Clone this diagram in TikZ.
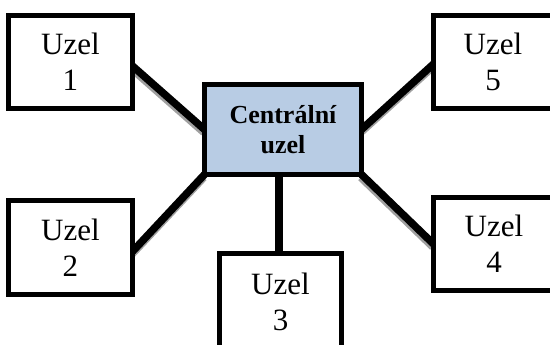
\documentclass[tikz,border=0pt]{standalone}
\usepackage{fontspec}
\setmainfont{Liberation Serif}
\usetikzlibrary{calc,backgrounds}
\definecolor{hubfill}{HTML}{B8CCE4}
\definecolor{shade}{HTML}{A0A0A0}
\tikzset{
  leaf/.style={draw=black, line width=5pt, fill=white, inner sep=0pt, outer sep=0pt,
    align=center, font=\fontsize{31}{36}\selectfont},
  hub/.style={draw=black, line width=5pt, fill=hubfill, inner sep=0pt, outer sep=0pt,
    align=center, font=\fontsize{26}{30}\selectfont\bfseries},
  link/.style={draw=black, line width=7.5pt},
  linkshadow/.style={draw=shade, line width=7.5pt}
}
\begin{document}
\begin{tikzpicture}[x=1pt, y=-1pt]
  \clip (0,0) rectangle (550,345);

  % the star: one hub and five leaves
  \node[hub, minimum width=157pt, minimum height=90pt] (c) at (283,129.5) {Centrální\\uzel};
  \node[leaf, minimum width=124pt, minimum height=93pt] (b1) at (70.5,62) {Uzel\\1};
  \node[leaf, minimum width=124pt, minimum height=94pt] (b2) at (70.5,247.5) {Uzel\\2};
  \node[leaf, minimum width=122pt, minimum height=97pt] (b3) at (280.5,302) {Uzel\\3};
  \node[leaf, minimum width=121pt, minimum height=93pt] (b4) at (494,244) {Uzel\\4};
  \node[leaf, minimum width=119pt, minimum height=93pt] (b5) at (493,62) {Uzel\\5};

  % white sheet and spokes with a soft grey drop shadow, kept behind the boxes
  \begin{pgfonlayer}{background}
    \fill[white] (0,0) rectangle (550,345);
    \coordinate (s1) at ($(b1.east)+(0,4)$);
    \coordinate (s5) at ($(b5.west)+(0,2)$);
    \coordinate (s2) at ($(b2.east)+(0,4)$);
    \coordinate (t3) at ($(c.south)+(-4,0)$);
    \begin{scope}[transform canvas={shift={(-0.7pt,-3pt)}}]
      \path[linkshadow] (s1) -- (c.west);
      \path[linkshadow] (c.east) -- (s5);
      \path[linkshadow] (c.south west) -- (s2);
      \path[linkshadow] (c.south east) -- (b4.west);
      \path[linkshadow] (t3) -- (t3 |- b3.north);
    \end{scope}
    \path[link] (s1) -- (c.west);
    \path[link] (c.east) -- (s5);
    \path[link] (c.south west) -- (s2);
    \path[link] (c.south east) -- (b4.west);
    \path[link] (t3) -- (t3 |- b3.north);
  \end{pgfonlayer}
\end{tikzpicture}
\end{document}
